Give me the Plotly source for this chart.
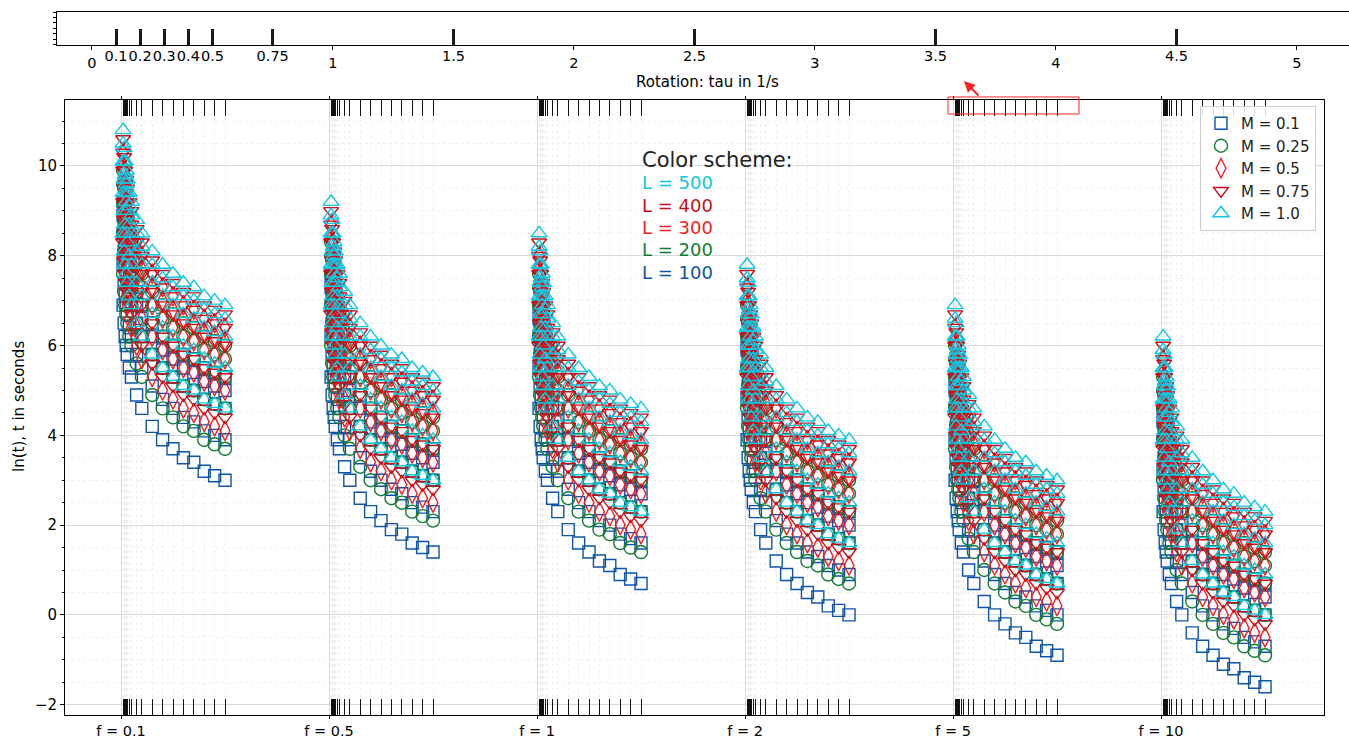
import plotly.graph_objects as go

# ---- data ---------------------------------------------------------------
# rotation values sampled inside every frequency block
taus = [0.2, 0.3, 0.4, 0.5, 0.6, 0.8, 1.0, 1.5, 2, 3, 4, 5, 6, 7, 8, 9, 10]
f_labels = ["0.1", "0.5", "1", "2", "5", "10"]
M_labels = ["0.1", "0.25", "0.5", "0.75", "1.0"]
L_labels = ["500", "400", "300", "200", "100"]
# rotation values marked on the small top axis
tau_marks = [0.1, 0.2, 0.3, 0.4, 0.5, 0.75, 1.5, 2.5, 3.5, 4.5]
tau_mark_text = ["0.1", "0.2", "0.3", "0.4", "0.5", "0.75", "1.5", "2.5", "3.5", "4.5"]
tau_axis_ticks = [0, 1, 2, 3, 4, 5]

# ln(t) per frequency: [M][L] rows, one value per tau
lnt_f0p1 = [
    [[6.9, 6.5, 6.2, 6.0, 5.8, 5.5, 5.3, 4.9, 4.6, 4.2, 3.9, 3.7, 3.5, 3.4, 3.2, 3.1, 3.0],
     [7.8, 7.4, 7.1, 6.9, 6.7, 6.4, 6.2, 5.8, 5.5, 5.1, 4.8, 4.6, 4.4, 4.3, 4.1, 4.0, 3.9],
     [8.5, 8.1, 7.8, 7.6, 7.4, 7.1, 6.9, 6.5, 6.2, 5.8, 5.5, 5.3, 5.1, 5.0, 4.8, 4.7, 4.6],
     [8.9, 8.5, 8.2, 8.0, 7.8, 7.5, 7.3, 6.9, 6.6, 6.2, 5.9, 5.7, 5.5, 5.4, 5.2, 5.1, 5.0],
     [9.2, 8.8, 8.5, 8.3, 8.1, 7.8, 7.6, 7.2, 6.9, 6.5, 6.2, 6.0, 5.8, 5.7, 5.5, 5.4, 5.3]],
    [[7.6, 7.2, 6.9, 6.7, 6.5, 6.2, 6.0, 5.6, 5.3, 4.9, 4.6, 4.4, 4.2, 4.1, 3.9, 3.8, 3.7],
     [8.5, 8.1, 7.8, 7.6, 7.4, 7.1, 6.9, 6.5, 6.2, 5.8, 5.5, 5.3, 5.1, 5.0, 4.8, 4.7, 4.6],
     [9.2, 8.8, 8.5, 8.3, 8.1, 7.8, 7.6, 7.2, 6.9, 6.5, 6.2, 6.0, 5.8, 5.7, 5.5, 5.4, 5.3],
     [9.6, 9.2, 8.9, 8.7, 8.5, 8.2, 8.0, 7.6, 7.3, 6.9, 6.6, 6.4, 6.2, 6.1, 5.9, 5.8, 5.7],
     [9.9, 9.5, 9.2, 9.0, 8.8, 8.5, 8.3, 7.9, 7.6, 7.2, 6.9, 6.7, 6.5, 6.4, 6.2, 6.1, 6.0]],
    [[8.0, 7.6, 7.3, 7.1, 6.9, 6.6, 6.4, 6.0, 5.7, 5.3, 5.0, 4.8, 4.6, 4.5, 4.3, 4.2, 4.1],
     [8.9, 8.5, 8.2, 8.0, 7.8, 7.5, 7.3, 6.9, 6.6, 6.2, 5.9, 5.7, 5.5, 5.4, 5.2, 5.1, 5.0],
     [9.6, 9.2, 8.9, 8.7, 8.5, 8.2, 8.0, 7.6, 7.3, 6.9, 6.6, 6.4, 6.2, 6.1, 5.9, 5.8, 5.7],
     [10.0, 9.6, 9.3, 9.1, 8.9, 8.6, 8.4, 8.0, 7.7, 7.3, 7.0, 6.8, 6.6, 6.5, 6.3, 6.2, 6.1],
     [10.3, 9.9, 9.6, 9.4, 9.2, 8.9, 8.7, 8.3, 8.0, 7.6, 7.3, 7.1, 6.9, 6.8, 6.6, 6.5, 6.4]],
    [[8.3, 7.9, 7.6, 7.4, 7.2, 6.9, 6.7, 6.3, 6.0, 5.6, 5.3, 5.1, 4.9, 4.8, 4.6, 4.5, 4.4],
     [9.2, 8.8, 8.5, 8.3, 8.1, 7.8, 7.6, 7.2, 6.9, 6.5, 6.2, 6.0, 5.8, 5.7, 5.5, 5.4, 5.3],
     [9.9, 9.5, 9.2, 9.0, 8.8, 8.5, 8.3, 7.9, 7.6, 7.2, 6.9, 6.7, 6.5, 6.4, 6.2, 6.1, 6.0],
     [10.3, 9.9, 9.6, 9.4, 9.2, 8.9, 8.7, 8.3, 8.0, 7.6, 7.3, 7.1, 6.9, 6.8, 6.6, 6.5, 6.4],
     [10.6, 10.2, 9.9, 9.7, 9.5, 9.2, 9.0, 8.6, 8.3, 7.9, 7.6, 7.4, 7.2, 7.1, 6.9, 6.8, 6.7]],
    [[8.5, 8.1, 7.8, 7.6, 7.4, 7.1, 6.9, 6.5, 6.2, 5.8, 5.5, 5.3, 5.1, 5.0, 4.8, 4.7, 4.6],
     [9.4, 9.0, 8.7, 8.5, 8.3, 8.0, 7.8, 7.4, 7.1, 6.7, 6.4, 6.2, 6.0, 5.9, 5.7, 5.6, 5.5],
     [10.1, 9.7, 9.4, 9.2, 9.0, 8.7, 8.5, 8.1, 7.8, 7.4, 7.1, 6.9, 6.7, 6.6, 6.4, 6.3, 6.2],
     [10.5, 10.1, 9.8, 9.6, 9.4, 9.1, 8.9, 8.5, 8.2, 7.8, 7.5, 7.3, 7.1, 7.0, 6.8, 6.7, 6.6],
     [10.8, 10.4, 10.1, 9.9, 9.7, 9.4, 9.2, 8.8, 8.5, 8.1, 7.8, 7.6, 7.4, 7.3, 7.1, 7.0, 6.9]],
]

lnt_f0p5 = [
    [[5.3, 4.9, 4.6, 4.4, 4.2, 3.9, 3.7, 3.3, 3.0, 2.6, 2.3, 2.1, 1.9, 1.8, 1.6, 1.5, 1.4],
     [6.2, 5.8, 5.5, 5.3, 5.1, 4.8, 4.6, 4.2, 3.9, 3.5, 3.2, 3.0, 2.8, 2.7, 2.5, 2.4, 2.3],
     [6.9, 6.5, 6.2, 6.0, 5.8, 5.5, 5.3, 4.9, 4.6, 4.2, 3.9, 3.7, 3.5, 3.4, 3.2, 3.1, 3.0],
     [7.3, 6.9, 6.6, 6.4, 6.2, 5.9, 5.7, 5.3, 5.0, 4.6, 4.3, 4.1, 3.9, 3.8, 3.6, 3.5, 3.4],
     [7.6, 7.2, 6.9, 6.7, 6.5, 6.2, 6.0, 5.6, 5.3, 4.9, 4.6, 4.4, 4.2, 4.1, 3.9, 3.8, 3.7]],
    [[6.0, 5.6, 5.3, 5.1, 4.9, 4.6, 4.4, 4.0, 3.7, 3.3, 3.0, 2.8, 2.6, 2.5, 2.3, 2.2, 2.1],
     [6.9, 6.5, 6.2, 6.0, 5.8, 5.5, 5.3, 4.9, 4.6, 4.2, 3.9, 3.7, 3.5, 3.4, 3.2, 3.1, 3.0],
     [7.6, 7.2, 6.9, 6.7, 6.5, 6.2, 6.0, 5.6, 5.3, 4.9, 4.6, 4.4, 4.2, 4.1, 3.9, 3.8, 3.7],
     [8.0, 7.6, 7.3, 7.1, 6.9, 6.6, 6.4, 6.0, 5.7, 5.3, 5.0, 4.8, 4.6, 4.5, 4.3, 4.2, 4.1],
     [8.3, 7.9, 7.6, 7.4, 7.2, 6.9, 6.7, 6.3, 6.0, 5.6, 5.3, 5.1, 4.9, 4.8, 4.6, 4.5, 4.4]],
    [[6.4, 6.0, 5.7, 5.5, 5.3, 5.0, 4.8, 4.4, 4.1, 3.7, 3.4, 3.2, 3.0, 2.9, 2.7, 2.6, 2.5],
     [7.3, 6.9, 6.6, 6.4, 6.2, 5.9, 5.7, 5.3, 5.0, 4.6, 4.3, 4.1, 3.9, 3.8, 3.6, 3.5, 3.4],
     [8.0, 7.6, 7.3, 7.1, 6.9, 6.6, 6.4, 6.0, 5.7, 5.3, 5.0, 4.8, 4.6, 4.5, 4.3, 4.2, 4.1],
     [8.4, 8.0, 7.7, 7.5, 7.3, 7.0, 6.8, 6.4, 6.1, 5.7, 5.4, 5.2, 5.0, 4.9, 4.7, 4.6, 4.5],
     [8.7, 8.3, 8.0, 7.8, 7.6, 7.3, 7.1, 6.7, 6.4, 6.0, 5.7, 5.5, 5.3, 5.2, 5.0, 4.9, 4.8]],
    [[6.7, 6.3, 6.0, 5.8, 5.6, 5.3, 5.1, 4.7, 4.4, 4.0, 3.7, 3.5, 3.3, 3.2, 3.0, 2.9, 2.8],
     [7.6, 7.2, 6.9, 6.7, 6.5, 6.2, 6.0, 5.6, 5.3, 4.9, 4.6, 4.4, 4.2, 4.1, 3.9, 3.8, 3.7],
     [8.3, 7.9, 7.6, 7.4, 7.2, 6.9, 6.7, 6.3, 6.0, 5.6, 5.3, 5.1, 4.9, 4.8, 4.6, 4.5, 4.4],
     [8.7, 8.3, 8.0, 7.8, 7.6, 7.3, 7.1, 6.7, 6.4, 6.0, 5.7, 5.5, 5.3, 5.2, 5.0, 4.9, 4.8],
     [9.0, 8.6, 8.3, 8.1, 7.9, 7.6, 7.4, 7.0, 6.7, 6.3, 6.0, 5.8, 5.6, 5.5, 5.3, 5.2, 5.1]],
    [[6.9, 6.5, 6.2, 6.0, 5.8, 5.5, 5.3, 4.9, 4.6, 4.2, 3.9, 3.7, 3.5, 3.4, 3.2, 3.1, 3.0],
     [7.8, 7.4, 7.1, 6.9, 6.7, 6.4, 6.2, 5.8, 5.5, 5.1, 4.8, 4.6, 4.4, 4.3, 4.1, 4.0, 3.9],
     [8.5, 8.1, 7.8, 7.6, 7.4, 7.1, 6.9, 6.5, 6.2, 5.8, 5.5, 5.3, 5.1, 5.0, 4.8, 4.7, 4.6],
     [8.9, 8.5, 8.2, 8.0, 7.8, 7.5, 7.3, 6.9, 6.6, 6.2, 5.9, 5.7, 5.5, 5.4, 5.2, 5.1, 5.0],
     [9.2, 8.8, 8.5, 8.3, 8.1, 7.8, 7.6, 7.2, 6.9, 6.5, 6.2, 6.0, 5.8, 5.7, 5.5, 5.4, 5.3]],
]

lnt_f1 = [
    [[4.6, 4.2, 3.9, 3.7, 3.5, 3.2, 3.0, 2.6, 2.3, 1.9, 1.6, 1.4, 1.2, 1.1, 0.9, 0.8, 0.7],
     [5.5, 5.1, 4.8, 4.6, 4.4, 4.1, 3.9, 3.5, 3.2, 2.8, 2.5, 2.3, 2.1, 2.0, 1.8, 1.7, 1.6],
     [6.2, 5.8, 5.5, 5.3, 5.1, 4.8, 4.6, 4.2, 3.9, 3.5, 3.2, 3.0, 2.8, 2.7, 2.5, 2.4, 2.3],
     [6.6, 6.2, 5.9, 5.7, 5.5, 5.2, 5.0, 4.6, 4.3, 3.9, 3.6, 3.4, 3.2, 3.1, 2.9, 2.8, 2.7],
     [6.9, 6.5, 6.2, 6.0, 5.8, 5.5, 5.3, 4.9, 4.6, 4.2, 3.9, 3.7, 3.5, 3.4, 3.2, 3.1, 3.0]],
    [[5.3, 4.9, 4.6, 4.4, 4.2, 3.9, 3.7, 3.3, 3.0, 2.6, 2.3, 2.1, 1.9, 1.8, 1.6, 1.5, 1.4],
     [6.2, 5.8, 5.5, 5.3, 5.1, 4.8, 4.6, 4.2, 3.9, 3.5, 3.2, 3.0, 2.8, 2.7, 2.5, 2.4, 2.3],
     [6.9, 6.5, 6.2, 6.0, 5.8, 5.5, 5.3, 4.9, 4.6, 4.2, 3.9, 3.7, 3.5, 3.4, 3.2, 3.1, 3.0],
     [7.3, 6.9, 6.6, 6.4, 6.2, 5.9, 5.7, 5.3, 5.0, 4.6, 4.3, 4.1, 3.9, 3.8, 3.6, 3.5, 3.4],
     [7.6, 7.2, 6.9, 6.7, 6.5, 6.2, 6.0, 5.6, 5.3, 4.9, 4.6, 4.4, 4.2, 4.1, 3.9, 3.8, 3.7]],
    [[5.7, 5.3, 5.0, 4.8, 4.6, 4.3, 4.1, 3.7, 3.4, 3.0, 2.7, 2.5, 2.3, 2.2, 2.0, 1.9, 1.8],
     [6.6, 6.2, 5.9, 5.7, 5.5, 5.2, 5.0, 4.6, 4.3, 3.9, 3.6, 3.4, 3.2, 3.1, 2.9, 2.8, 2.7],
     [7.3, 6.9, 6.6, 6.4, 6.2, 5.9, 5.7, 5.3, 5.0, 4.6, 4.3, 4.1, 3.9, 3.8, 3.6, 3.5, 3.4],
     [7.7, 7.3, 7.0, 6.8, 6.6, 6.3, 6.1, 5.7, 5.4, 5.0, 4.7, 4.5, 4.3, 4.2, 4.0, 3.9, 3.8],
     [8.0, 7.6, 7.3, 7.1, 6.9, 6.6, 6.4, 6.0, 5.7, 5.3, 5.0, 4.8, 4.6, 4.5, 4.3, 4.2, 4.1]],
    [[6.0, 5.6, 5.3, 5.1, 4.9, 4.6, 4.4, 4.0, 3.7, 3.3, 3.0, 2.8, 2.6, 2.5, 2.3, 2.2, 2.1],
     [6.9, 6.5, 6.2, 6.0, 5.8, 5.5, 5.3, 4.9, 4.6, 4.2, 3.9, 3.7, 3.5, 3.4, 3.2, 3.1, 3.0],
     [7.6, 7.2, 6.9, 6.7, 6.5, 6.2, 6.0, 5.6, 5.3, 4.9, 4.6, 4.4, 4.2, 4.1, 3.9, 3.8, 3.7],
     [8.0, 7.6, 7.3, 7.1, 6.9, 6.6, 6.4, 6.0, 5.7, 5.3, 5.0, 4.8, 4.6, 4.5, 4.3, 4.2, 4.1],
     [8.3, 7.9, 7.6, 7.4, 7.2, 6.9, 6.7, 6.3, 6.0, 5.6, 5.3, 5.1, 4.9, 4.8, 4.6, 4.5, 4.4]],
    [[6.2, 5.8, 5.5, 5.3, 5.1, 4.8, 4.6, 4.2, 3.9, 3.5, 3.2, 3.0, 2.8, 2.7, 2.5, 2.4, 2.3],
     [7.1, 6.7, 6.4, 6.2, 6.0, 5.7, 5.5, 5.1, 4.8, 4.4, 4.1, 3.9, 3.7, 3.6, 3.4, 3.3, 3.2],
     [7.8, 7.4, 7.1, 6.9, 6.7, 6.4, 6.2, 5.8, 5.5, 5.1, 4.8, 4.6, 4.4, 4.3, 4.1, 4.0, 3.9],
     [8.2, 7.8, 7.5, 7.3, 7.1, 6.8, 6.6, 6.2, 5.9, 5.5, 5.2, 5.0, 4.8, 4.7, 4.5, 4.4, 4.3],
     [8.5, 8.1, 7.8, 7.6, 7.4, 7.1, 6.9, 6.5, 6.2, 5.8, 5.5, 5.3, 5.1, 5.0, 4.8, 4.7, 4.6]],
]

lnt_f2 = [
    [[3.9, 3.5, 3.2, 3.0, 2.8, 2.5, 2.3, 1.9, 1.6, 1.2, 0.9, 0.7, 0.5, 0.4, 0.2, 0.1, 0.0],
     [4.8, 4.4, 4.1, 3.9, 3.7, 3.4, 3.2, 2.8, 2.5, 2.1, 1.8, 1.6, 1.4, 1.3, 1.1, 1.0, 0.9],
     [5.5, 5.1, 4.8, 4.6, 4.4, 4.1, 3.9, 3.5, 3.2, 2.8, 2.5, 2.3, 2.1, 2.0, 1.8, 1.7, 1.6],
     [5.9, 5.5, 5.2, 5.0, 4.8, 4.5, 4.3, 3.9, 3.6, 3.2, 2.9, 2.7, 2.5, 2.4, 2.2, 2.1, 2.0],
     [6.2, 5.8, 5.5, 5.3, 5.1, 4.8, 4.6, 4.2, 3.9, 3.5, 3.2, 3.0, 2.8, 2.7, 2.5, 2.4, 2.3]],
    [[4.6, 4.2, 3.9, 3.7, 3.5, 3.2, 3.0, 2.6, 2.3, 1.9, 1.6, 1.4, 1.2, 1.1, 0.9, 0.8, 0.7],
     [5.5, 5.1, 4.8, 4.6, 4.4, 4.1, 3.9, 3.5, 3.2, 2.8, 2.5, 2.3, 2.1, 2.0, 1.8, 1.7, 1.6],
     [6.2, 5.8, 5.5, 5.3, 5.1, 4.8, 4.6, 4.2, 3.9, 3.5, 3.2, 3.0, 2.8, 2.7, 2.5, 2.4, 2.3],
     [6.6, 6.2, 5.9, 5.7, 5.5, 5.2, 5.0, 4.6, 4.3, 3.9, 3.6, 3.4, 3.2, 3.1, 2.9, 2.8, 2.7],
     [6.9, 6.5, 6.2, 6.0, 5.8, 5.5, 5.3, 4.9, 4.6, 4.2, 3.9, 3.7, 3.5, 3.4, 3.2, 3.1, 3.0]],
    [[5.0, 4.6, 4.3, 4.1, 3.9, 3.6, 3.4, 3.0, 2.7, 2.3, 2.0, 1.8, 1.6, 1.5, 1.3, 1.2, 1.1],
     [5.9, 5.5, 5.2, 5.0, 4.8, 4.5, 4.3, 3.9, 3.6, 3.2, 2.9, 2.7, 2.5, 2.4, 2.2, 2.1, 2.0],
     [6.6, 6.2, 5.9, 5.7, 5.5, 5.2, 5.0, 4.6, 4.3, 3.9, 3.6, 3.4, 3.2, 3.1, 2.9, 2.8, 2.7],
     [7.0, 6.6, 6.3, 6.1, 5.9, 5.6, 5.4, 5.0, 4.7, 4.3, 4.0, 3.8, 3.6, 3.5, 3.3, 3.2, 3.1],
     [7.3, 6.9, 6.6, 6.4, 6.2, 5.9, 5.7, 5.3, 5.0, 4.6, 4.3, 4.1, 3.9, 3.8, 3.6, 3.5, 3.4]],
    [[5.3, 4.9, 4.6, 4.4, 4.2, 3.9, 3.7, 3.3, 3.0, 2.6, 2.3, 2.1, 1.9, 1.8, 1.6, 1.5, 1.4],
     [6.2, 5.8, 5.5, 5.3, 5.1, 4.8, 4.6, 4.2, 3.9, 3.5, 3.2, 3.0, 2.8, 2.7, 2.5, 2.4, 2.3],
     [6.9, 6.5, 6.2, 6.0, 5.8, 5.5, 5.3, 4.9, 4.6, 4.2, 3.9, 3.7, 3.5, 3.4, 3.2, 3.1, 3.0],
     [7.3, 6.9, 6.6, 6.4, 6.2, 5.9, 5.7, 5.3, 5.0, 4.6, 4.3, 4.1, 3.9, 3.8, 3.6, 3.5, 3.4],
     [7.6, 7.2, 6.9, 6.7, 6.5, 6.2, 6.0, 5.6, 5.3, 4.9, 4.6, 4.4, 4.2, 4.1, 3.9, 3.8, 3.7]],
    [[5.5, 5.1, 4.8, 4.6, 4.4, 4.1, 3.9, 3.5, 3.2, 2.8, 2.5, 2.3, 2.1, 2.0, 1.8, 1.7, 1.6],
     [6.4, 6.0, 5.7, 5.5, 5.3, 5.0, 4.8, 4.4, 4.1, 3.7, 3.4, 3.2, 3.0, 2.9, 2.7, 2.6, 2.5],
     [7.1, 6.7, 6.4, 6.2, 6.0, 5.7, 5.5, 5.1, 4.8, 4.4, 4.1, 3.9, 3.7, 3.6, 3.4, 3.3, 3.2],
     [7.5, 7.1, 6.8, 6.6, 6.4, 6.1, 5.9, 5.5, 5.2, 4.8, 4.5, 4.3, 4.1, 4.0, 3.8, 3.7, 3.6],
     [7.8, 7.4, 7.1, 6.9, 6.7, 6.4, 6.2, 5.8, 5.5, 5.1, 4.8, 4.6, 4.4, 4.3, 4.1, 4.0, 3.9]],
]

lnt_f5 = [
    [[3.0, 2.6, 2.3, 2.1, 1.9, 1.6, 1.4, 1.0, 0.7, 0.3, 0.0, -0.2, -0.4, -0.5, -0.7, -0.8, -0.9],
     [3.9, 3.5, 3.2, 3.0, 2.8, 2.5, 2.3, 1.9, 1.6, 1.2, 0.9, 0.7, 0.5, 0.4, 0.2, 0.1, 0.0],
     [4.6, 4.2, 3.9, 3.7, 3.5, 3.2, 3.0, 2.6, 2.3, 1.9, 1.6, 1.4, 1.2, 1.1, 0.9, 0.8, 0.7],
     [5.0, 4.6, 4.3, 4.1, 3.9, 3.6, 3.4, 3.0, 2.7, 2.3, 2.0, 1.8, 1.6, 1.5, 1.3, 1.2, 1.1],
     [5.3, 4.9, 4.6, 4.4, 4.2, 3.9, 3.7, 3.3, 3.0, 2.6, 2.3, 2.1, 1.9, 1.8, 1.6, 1.5, 1.4]],
    [[3.7, 3.3, 3.0, 2.8, 2.6, 2.3, 2.1, 1.7, 1.4, 1.0, 0.7, 0.5, 0.3, 0.2, 0.0, -0.1, -0.2],
     [4.6, 4.2, 3.9, 3.7, 3.5, 3.2, 3.0, 2.6, 2.3, 1.9, 1.6, 1.4, 1.2, 1.1, 0.9, 0.8, 0.7],
     [5.3, 4.9, 4.6, 4.4, 4.2, 3.9, 3.7, 3.3, 3.0, 2.6, 2.3, 2.1, 1.9, 1.8, 1.6, 1.5, 1.4],
     [5.7, 5.3, 5.0, 4.8, 4.6, 4.3, 4.1, 3.7, 3.4, 3.0, 2.7, 2.5, 2.3, 2.2, 2.0, 1.9, 1.8],
     [6.0, 5.6, 5.3, 5.1, 4.9, 4.6, 4.4, 4.0, 3.7, 3.3, 3.0, 2.8, 2.6, 2.5, 2.3, 2.2, 2.1]],
    [[4.1, 3.7, 3.4, 3.2, 3.0, 2.7, 2.5, 2.1, 1.8, 1.4, 1.1, 0.9, 0.7, 0.6, 0.4, 0.3, 0.2],
     [5.0, 4.6, 4.3, 4.1, 3.9, 3.6, 3.4, 3.0, 2.7, 2.3, 2.0, 1.8, 1.6, 1.5, 1.3, 1.2, 1.1],
     [5.7, 5.3, 5.0, 4.8, 4.6, 4.3, 4.1, 3.7, 3.4, 3.0, 2.7, 2.5, 2.3, 2.2, 2.0, 1.9, 1.8],
     [6.1, 5.7, 5.4, 5.2, 5.0, 4.7, 4.5, 4.1, 3.8, 3.4, 3.1, 2.9, 2.7, 2.6, 2.4, 2.3, 2.2],
     [6.4, 6.0, 5.7, 5.5, 5.3, 5.0, 4.8, 4.4, 4.1, 3.7, 3.4, 3.2, 3.0, 2.9, 2.7, 2.6, 2.5]],
    [[4.4, 4.0, 3.7, 3.5, 3.3, 3.0, 2.8, 2.4, 2.1, 1.7, 1.4, 1.2, 1.0, 0.9, 0.7, 0.6, 0.5],
     [5.3, 4.9, 4.6, 4.4, 4.2, 3.9, 3.7, 3.3, 3.0, 2.6, 2.3, 2.1, 1.9, 1.8, 1.6, 1.5, 1.4],
     [6.0, 5.6, 5.3, 5.1, 4.9, 4.6, 4.4, 4.0, 3.7, 3.3, 3.0, 2.8, 2.6, 2.5, 2.3, 2.2, 2.1],
     [6.4, 6.0, 5.7, 5.5, 5.3, 5.0, 4.8, 4.4, 4.1, 3.7, 3.4, 3.2, 3.0, 2.9, 2.7, 2.6, 2.5],
     [6.7, 6.3, 6.0, 5.8, 5.6, 5.3, 5.1, 4.7, 4.4, 4.0, 3.7, 3.5, 3.3, 3.2, 3.0, 2.9, 2.8]],
    [[4.6, 4.2, 3.9, 3.7, 3.5, 3.2, 3.0, 2.6, 2.3, 1.9, 1.6, 1.4, 1.2, 1.1, 0.9, 0.8, 0.7],
     [5.5, 5.1, 4.8, 4.6, 4.4, 4.1, 3.9, 3.5, 3.2, 2.8, 2.5, 2.3, 2.1, 2.0, 1.8, 1.7, 1.6],
     [6.2, 5.8, 5.5, 5.3, 5.1, 4.8, 4.6, 4.2, 3.9, 3.5, 3.2, 3.0, 2.8, 2.7, 2.5, 2.4, 2.3],
     [6.6, 6.2, 5.9, 5.7, 5.5, 5.2, 5.0, 4.6, 4.3, 3.9, 3.6, 3.4, 3.2, 3.1, 2.9, 2.8, 2.7],
     [6.9, 6.5, 6.2, 6.0, 5.8, 5.5, 5.3, 4.9, 4.6, 4.2, 3.9, 3.7, 3.5, 3.4, 3.2, 3.1, 3.0]],
]

lnt_f10 = [
    [[2.3, 1.9, 1.6, 1.4, 1.2, 0.9, 0.7, 0.3, 0.0, -0.4, -0.7, -0.9, -1.1, -1.2, -1.4, -1.5, -1.6],
     [3.2, 2.8, 2.5, 2.3, 2.1, 1.8, 1.6, 1.2, 0.9, 0.5, 0.2, 0.0, -0.2, -0.3, -0.5, -0.6, -0.7],
     [3.9, 3.5, 3.2, 3.0, 2.8, 2.5, 2.3, 1.9, 1.6, 1.2, 0.9, 0.7, 0.5, 0.4, 0.2, 0.1, 0.0],
     [4.3, 3.9, 3.6, 3.4, 3.2, 2.9, 2.7, 2.3, 2.0, 1.6, 1.3, 1.1, 0.9, 0.8, 0.6, 0.5, 0.4],
     [4.6, 4.2, 3.9, 3.7, 3.5, 3.2, 3.0, 2.6, 2.3, 1.9, 1.6, 1.4, 1.2, 1.1, 0.9, 0.8, 0.7]],
    [[3.0, 2.6, 2.3, 2.1, 1.9, 1.6, 1.4, 1.0, 0.7, 0.3, 0.0, -0.2, -0.4, -0.5, -0.7, -0.8, -0.9],
     [3.9, 3.5, 3.2, 3.0, 2.8, 2.5, 2.3, 1.9, 1.6, 1.2, 0.9, 0.7, 0.5, 0.4, 0.2, 0.1, 0.0],
     [4.6, 4.2, 3.9, 3.7, 3.5, 3.2, 3.0, 2.6, 2.3, 1.9, 1.6, 1.4, 1.2, 1.1, 0.9, 0.8, 0.7],
     [5.0, 4.6, 4.3, 4.1, 3.9, 3.6, 3.4, 3.0, 2.7, 2.3, 2.0, 1.8, 1.6, 1.5, 1.3, 1.2, 1.1],
     [5.3, 4.9, 4.6, 4.4, 4.2, 3.9, 3.7, 3.3, 3.0, 2.6, 2.3, 2.1, 1.9, 1.8, 1.6, 1.5, 1.4]],
    [[3.4, 3.0, 2.7, 2.5, 2.3, 2.0, 1.8, 1.4, 1.1, 0.7, 0.4, 0.2, 0.0, -0.1, -0.3, -0.4, -0.5],
     [4.3, 3.9, 3.6, 3.4, 3.2, 2.9, 2.7, 2.3, 2.0, 1.6, 1.3, 1.1, 0.9, 0.8, 0.6, 0.5, 0.4],
     [5.0, 4.6, 4.3, 4.1, 3.9, 3.6, 3.4, 3.0, 2.7, 2.3, 2.0, 1.8, 1.6, 1.5, 1.3, 1.2, 1.1],
     [5.4, 5.0, 4.7, 4.5, 4.3, 4.0, 3.8, 3.4, 3.1, 2.7, 2.4, 2.2, 2.0, 1.9, 1.7, 1.6, 1.5],
     [5.7, 5.3, 5.0, 4.8, 4.6, 4.3, 4.1, 3.7, 3.4, 3.0, 2.7, 2.5, 2.3, 2.2, 2.0, 1.9, 1.8]],
    [[3.7, 3.3, 3.0, 2.8, 2.6, 2.3, 2.1, 1.7, 1.4, 1.0, 0.7, 0.5, 0.3, 0.2, 0.0, -0.1, -0.2],
     [4.6, 4.2, 3.9, 3.7, 3.5, 3.2, 3.0, 2.6, 2.3, 1.9, 1.6, 1.4, 1.2, 1.1, 0.9, 0.8, 0.7],
     [5.3, 4.9, 4.6, 4.4, 4.2, 3.9, 3.7, 3.3, 3.0, 2.6, 2.3, 2.1, 1.9, 1.8, 1.6, 1.5, 1.4],
     [5.7, 5.3, 5.0, 4.8, 4.6, 4.3, 4.1, 3.7, 3.4, 3.0, 2.7, 2.5, 2.3, 2.2, 2.0, 1.9, 1.8],
     [6.0, 5.6, 5.3, 5.1, 4.9, 4.6, 4.4, 4.0, 3.7, 3.3, 3.0, 2.8, 2.6, 2.5, 2.3, 2.2, 2.1]],
    [[3.9, 3.5, 3.2, 3.0, 2.8, 2.5, 2.3, 1.9, 1.6, 1.2, 0.9, 0.7, 0.5, 0.4, 0.2, 0.1, 0.0],
     [4.8, 4.4, 4.1, 3.9, 3.7, 3.4, 3.2, 2.8, 2.5, 2.1, 1.8, 1.6, 1.4, 1.3, 1.1, 1.0, 0.9],
     [5.5, 5.1, 4.8, 4.6, 4.4, 4.1, 3.9, 3.5, 3.2, 2.8, 2.5, 2.3, 2.1, 2.0, 1.8, 1.7, 1.6],
     [5.9, 5.5, 5.2, 5.0, 4.8, 4.5, 4.3, 3.9, 3.6, 3.2, 2.9, 2.7, 2.5, 2.4, 2.2, 2.1, 2.0],
     [6.2, 5.8, 5.5, 5.3, 5.1, 4.8, 4.6, 4.2, 3.9, 3.5, 3.2, 3.0, 2.8, 2.7, 2.5, 2.4, 2.3]],
]

freq_tables = [lnt_f0p1, lnt_f0p5, lnt_f1, lnt_f2, lnt_f5, lnt_f10]

# ---- styling ------------------------------------------------------------
FONT = "DejaVu Sans"
GROUP_SPAN = 20  # x-units reserved for every frequency block
M_symbols = ["square-open", "circle-open", "diamond-tall-open",
             "triangle-down-open", "triangle-up-open"]
M_sizes = [12, 13, 14, 13, 14]
M_colors = ["#0d54a8", "#137c33", "#f41d22", "#c1121c", "#12c6df"]
L_colors = ["#12c6df", "#c1121c", "#f41d22", "#137c33", "#0d54a8"]

block_x = [GROUP_SPAN * g + t for g in range(len(f_labels)) for t in taus]

fig = go.Figure()

for m, label in enumerate(M_labels):
    xs, ys = [], []
    for g, table in enumerate(freq_tables):
        for row in table[m]:
            xs += [GROUP_SPAN * g + t for t in taus]
            ys += row
    fig.add_trace(go.Scatter(
        x=xs, y=ys, mode="markers", name=f"M = {label}",
        legendgroup=label,
        marker=dict(symbol=M_symbols[m], size=M_sizes[m], color=M_colors[m],
                    line=dict(width=1.4)),
        xaxis="x", yaxis="y",
    ))

# carrier traces so the top rotation axis is drawn
fig.add_trace(go.Scatter(x=tau_axis_ticks, y=[0.5] * len(tau_axis_ticks),
                         mode="markers", marker=dict(opacity=0),
                         hoverinfo="skip", showlegend=False,
                         xaxis="x2", yaxis="y2"))
fig.add_trace(go.Scatter(x=tau_marks, y=[0.5] * len(tau_marks),
                         mode="markers", marker=dict(opacity=0),
                         hoverinfo="skip", showlegend=False,
                         xaxis="x3", yaxis="y2"))

W, H = 1349, 738
def px_x(p):
    return p / W
def px_y(p):
    return (H - p) / H

main_tick_font = dict(family=FONT, size=15, color="#000000")
bottom_tick_font = dict(family=FONT, size=14.5, color="#000000")
top_tick_font = dict(family=FONT, size=14.5, color="#000000")

annotations = [
    dict(text="ln(t), t in seconds", x=px_x(19), y=px_y(407), xref="paper", yref="paper",
         xanchor="center", yanchor="middle", textangle=-90, showarrow=False,
         font=dict(family=FONT, size=15, color="#000")),
    dict(text="Rotation: tau in 1/s", x=px_x(707), y=px_y(82), xref="paper", yref="paper",
         xanchor="center", yanchor="middle", showarrow=False,
         font=dict(family=FONT, size=15, color="#000")),
    dict(text="Color scheme:", x=px_x(640), y=px_y(160), xref="paper", yref="paper",
         xanchor="left", yanchor="middle", showarrow=False,
         font=dict(family=FONT, size=21, color="#222")),
    dict(text="", x=px_x(964), y=px_y(81), xref="paper", yref="paper",
         showarrow=True, ax=16, ay=16, arrowhead=2, arrowsize=1.1, arrowwidth=2,
         arrowcolor="#ff2020"),
]
for i, (lab, col) in enumerate(zip(L_labels, L_colors)):
    annotations.append(dict(text=f"L = {lab}", x=px_x(640), y=px_y(183 + 22.3 * i),
                            xref="paper", yref="paper", xanchor="left", yanchor="middle",
                            showarrow=False,
                            font=dict(family=FONT, size=18, color=col)))

fig.update_layout(
    width=W, height=H, autosize=False,
    margin=dict(l=0, r=0, t=0, b=0, autoexpand=False),
    paper_bgcolor="white", plot_bgcolor="white",
    font=dict(family=FONT, size=13, color="#000"),
    showlegend=True,
    legend=dict(x=px_x(1316), y=px_y(106), xanchor="right", yanchor="top",
                bgcolor="rgba(255,255,255,0.85)", bordercolor="#cccccc", borderwidth=1,
                font=dict(family=FONT, size=15, color="#222"), tracegroupgap=0),
    xaxis=dict(
        domain=[px_x(65), px_x(1324)], anchor="y", automargin=False,
        range=[-5.385, 115.67],
        tickmode="array", tickvals=[GROUP_SPAN * g for g in range(len(f_labels))],
        ticktext=[f"f = {f}" for f in f_labels],
        ticks="outside", ticklen=3, tickcolor="#000", tickfont=bottom_tick_font,
        showgrid=True, gridcolor="#d9d9d9", gridwidth=1,
        minor=dict(tickmode="array", tickvals=block_x, ticks="inside", ticklen=16,
                   tickwidth=1.2, tickcolor="#111111", showgrid=True,
                   gridcolor="#efefef", griddash="dot", gridwidth=1),
        showline=True, linecolor="#000", linewidth=1, mirror="ticks",
        zeroline=False,
    ),
    yaxis=dict(
        domain=[px_y(715), px_y(100)], anchor="x", automargin=False,
        range=[-2.23, 11.47],
        tickmode="array", tickvals=[-2, 0, 2, 4, 6, 8, 10],
        ticks="outside", ticklen=4, tickcolor="#000", tickfont=main_tick_font,
        showgrid=True, gridcolor="#d9d9d9", gridwidth=1,
        minor=dict(dtick=0.5, tick0=0, ticks="outside", ticklen=2.5, tickcolor="#000",
                   showgrid=True, gridcolor="#efefef", griddash="dot", gridwidth=1),
        showline=True, linecolor="#000", linewidth=1, mirror=True,
        zeroline=False,
    ),
    xaxis2=dict(
        domain=[px_x(57), 1.0], anchor="y2", automargin=False,
        range=[-0.145, 5.216],
        tickmode="array", tickvals=tau_axis_ticks,
        ticks="outside", ticklen=4, tickcolor="#000", tickfont=top_tick_font,
        ticklabelstandoff=1,
        showgrid=False, zeroline=False,
        showline=True, linecolor="#000", linewidth=1, mirror=True,
    ),
    xaxis3=dict(
        overlaying="x2", anchor="y2", side="bottom", automargin=False,
        range=[-0.145, 5.216],
        tickmode="array", tickvals=tau_marks, ticktext=tau_mark_text,
        ticks="inside", ticklen=16, tickwidth=2.6, tickcolor="#1a1a1a",
        tickfont=top_tick_font, tickangle=0, ticklabelstandoff=1,
        showgrid=False, zeroline=False, showline=False,
    ),
    yaxis2=dict(
        domain=[px_y(44.5), px_y(12.3)], anchor="x2", automargin=False,
        range=[0, 1],
        tickmode="array", tickvals=[0, 0.17, 0.33, 0.5, 0.67, 0.83, 1],
        ticks="outside", ticklen=3, tickcolor="#000", showticklabels=False,
        showgrid=False, zeroline=False,
        showline=True, linecolor="#000", linewidth=1, mirror=True,
    ),
    shapes=[dict(type="rect", xref="paper", yref="paper",
                 x0=px_x(948), x1=px_x(1079), y0=px_y(114), y1=px_y(97),
                 line=dict(color="#ff2020", width=1), fillcolor="rgba(0,0,0,0)")],
    annotations=annotations,
)

fig.write_html("out.html")
